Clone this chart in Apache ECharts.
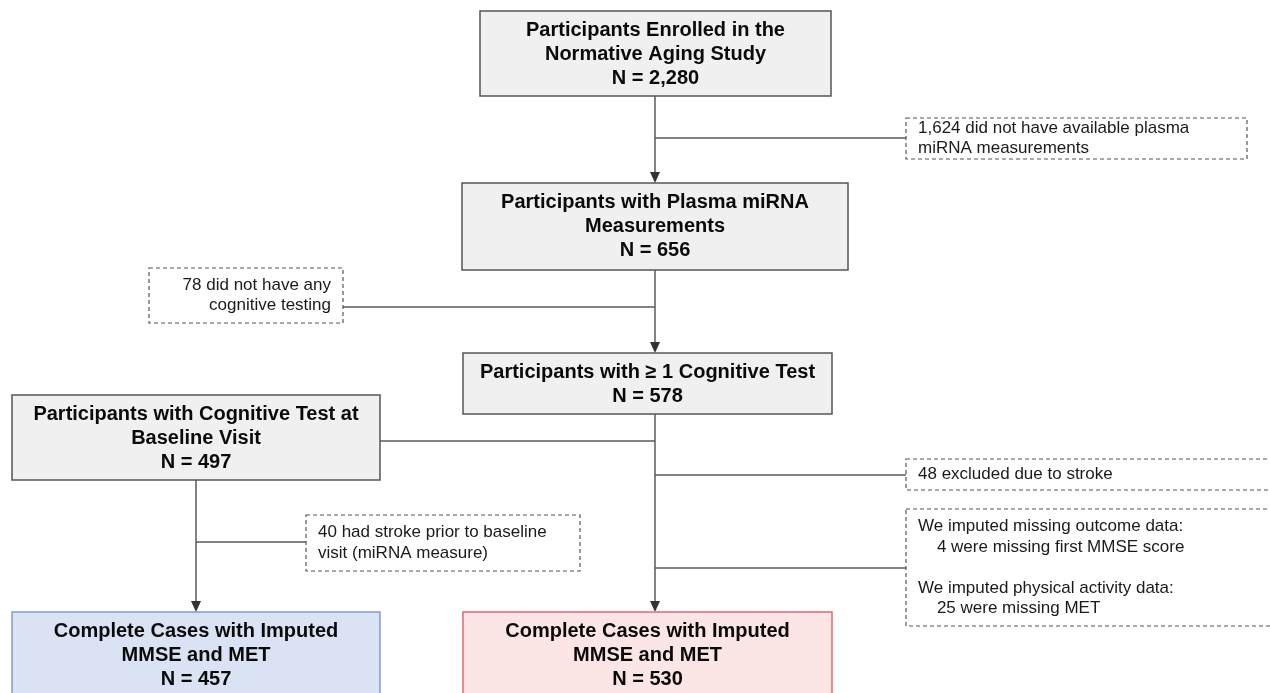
<!DOCTYPE html>
<html>
<head>
<meta charset="utf-8">
<script src="https://cdn.jsdelivr.net/npm/echarts@6/dist/echarts.min.js"></script>
<style>
  html, body { margin: 0; padding: 0; background: #fff; }
  #main { width: 1270px; height: 693px; }
</style>
</head>
<body>
<div id="main"></div>
<script>
// flow chart content
const boxTitles = [
  ['Participants Enrolled in the', 'Normative Aging Study'],
  ['Participants with Plasma miRNA', 'Measurements'],
  ['Participants with \u2265 1 Cognitive Test'],
  ['Participants with Cognitive Test at', 'Baseline Visit'],
  ['Complete Cases with Imputed', 'MMSE and MET'],
  ['Complete Cases with Imputed', 'MMSE and MET']
];
const boxCounts = ['N = 2,280', 'N = 656', 'N = 578', 'N = 497', 'N = 457', 'N = 530'];
const noteTexts = [
  ['1,624 did not have available plasma', 'miRNA measurements'],
  ['78 did not have any', 'cognitive testing'],
  ['40 had stroke prior to baseline', 'visit (miRNA measure)'],
  ['48 excluded due to stroke'],
  ['We imputed missing outcome data:', '    4 were missing first MMSE score', '',
   'We imputed physical activity data:', '    25 were missing MET']
];

// layout (pixel space of the hidden axes)
const boxRects = [
  [480, 11, 831, 96],
  [462, 183, 848, 270],
  [463, 353, 832, 414],
  [12, 395, 380, 480],
  [12, 612, 380, 730],
  [463, 612, 832, 730]
];
const boxTheme = ['gray', 'gray', 'gray', 'gray', 'blue', 'red'];
const themes = {
  gray: { fill: '#f0f0f0', stroke: '#555' },
  blue: { fill: '#dae3f3', stroke: '#7d9bd3' },
  red: { fill: '#fce6e5', stroke: '#e06b6b' }
};
const noteRects = [
  [906, 118, 1247, 159],
  [149, 268, 343, 323],
  [306, 515, 580, 571],
  [906, 459, 1285, 490],
  [906, 509, 1285, 626]
];
const noteAlign = ['left', 'right', 'left', 'left', 'left'];
// [x0, y0, x1, y1, arrow]
const links = [
  [655, 96, 655, 183, 1],
  [655, 138, 906, 138, 0],
  [655, 270, 655, 353, 1],
  [343, 307, 655, 307, 0],
  [380, 441, 655, 441, 0],
  [655, 414, 655, 612, 1],
  [655, 475, 906, 475, 0],
  [655, 568, 906, 568, 0],
  [196, 480, 196, 612, 1],
  [196, 542, 306, 542, 0]
];

const FONT = '"Liberation Sans", Arial, Helvetica, sans-serif';

const chart = echarts.init(document.getElementById('main'));

function renderLink(params, api) {
  const a = api.coord([api.value(0), api.value(1)]);
  const b = api.coord([api.value(2), api.value(3)]);
  const arrow = api.value(4);
  const children = [{
    type: 'line',
    shape: { x1: a[0], y1: a[1], x2: b[0], y2: arrow ? b[1] - 9 : b[1] },
    style: { stroke: '#5a5a5a', lineWidth: 1.5 }
  }];
  if (arrow) {
    children.push({
      type: 'polygon',
      shape: { points: [[b[0] - 5, b[1] - 11], [b[0] + 5, b[1] - 11], [b[0], b[1]]] },
      style: { fill: '#333' }
    });
  }
  return { type: 'group', children: children };
}

function renderBox(params, api) {
  const i = api.value(4);
  const a = api.coord([api.value(0), api.value(1)]);
  const b = api.coord([api.value(2), api.value(3)]);
  const th = themes[boxTheme[i]];
  const lines = boxTitles[i].concat([boxCounts[i]]);
  return {
    type: 'group',
    children: [{
      type: 'rect',
      shape: { x: a[0], y: a[1], width: b[0] - a[0], height: b[1] - a[1] },
      style: { fill: th.fill, stroke: th.stroke, lineWidth: 1.5 }
    }, {
      type: 'text',
      style: {
        text: lines.join('\n'),
        x: (a[0] + b[0]) / 2,
        y: a[1] + 7,
        align: 'center',
        verticalAlign: 'top',
        lineHeight: 24,
        fontSize: 20,
        fontWeight: 'bold',
        fontFamily: FONT,
        fill: '#0a0a0a'
      }
    }]
  };
}

function renderNote(params, api) {
  const i = api.value(4);
  const a = api.coord([api.value(0), api.value(1)]);
  const b = api.coord([api.value(2), api.value(3)]);
  const right = noteAlign[i] === 'right';
  return {
    type: 'group',
    children: [{
      type: 'rect',
      shape: { x: a[0], y: a[1], width: b[0] - a[0], height: b[1] - a[1] },
      style: { fill: '#fff', stroke: '#555', lineWidth: 1.2, lineDash: [4, 3] }
    }, {
      type: 'text',
      style: {
        text: noteTexts[i].join('\n'),
        x: right ? b[0] - 12 : a[0] + 12,
        y: (a[1] + b[1]) / 2,
        align: right ? 'right' : 'left',
        verticalAlign: 'middle',
        lineHeight: 20.5,
        fontSize: 17,
        fontFamily: FONT,
        fill: '#1a1a1a'
      }
    }]
  };
}

const option = {
  animation: false,
  grid: { left: 0, right: 0, top: 0, bottom: 0 },
  xAxis: { type: 'value', min: 0, max: 1270, show: false },
  yAxis: { type: 'value', min: 0, max: 693, inverse: true, show: false },
  series: [
    {
      type: 'custom',
      renderItem: renderLink,
      clip: false,
      data: links
    },
    {
      type: 'custom',
      renderItem: renderNote,
      data: noteRects.map((r, i) => r.concat([i]))
    },
    {
      type: 'custom',
      renderItem: renderBox,
      data: boxRects.map((r, i) => r.concat([i]))
    }
  ]
};

chart.setOption(option);
</script>
</body>
</html>
